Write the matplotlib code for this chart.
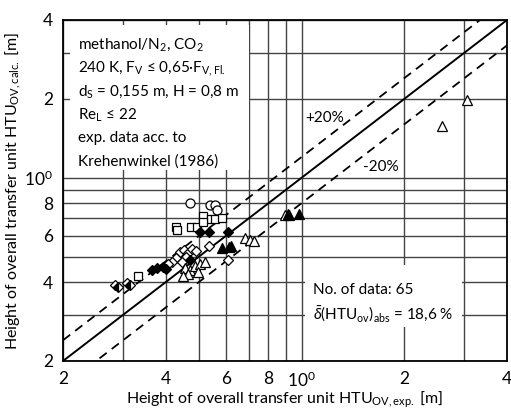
import matplotlib
matplotlib.use("Agg")
import matplotlib.pyplot as plt
from matplotlib.patches import Rectangle
from matplotlib.ticker import FixedLocator, FixedFormatter, NullFormatter
import numpy as np

plt.rcParams["font.family"] = ["Lato", "DejaVu Sans"]
plt.rcParams["mathtext.fontset"] = "custom"
plt.rcParams["mathtext.rm"] = "Lato"
plt.rcParams["mathtext.it"] = "Lato:italic"
plt.rcParams["mathtext.bf"] = "Lato:bold"

DPI = 100
FS = 11

# measured HTU_OV,exp. / HTU_OV,calc. [m], grouped by marker
open_circle_x = [0.472, 0.540, 0.558, 0.566]
open_circle_y = [0.804, 0.788, 0.788, 0.754]

open_square_x = [0.515, 0.543, 0.558, 0.585, 0.429, 0.432, 0.475, 0.494, 0.515, 0.332]
open_square_y = [0.715, 0.694, 0.694, 0.705, 0.649, 0.632, 0.649, 0.649, 0.680, 0.422]

filled_diamond_x = [0.504, 0.536, 0.609, 0.472, 0.365, 0.378, 0.392, 0.402]
filled_diamond_y = [0.621, 0.621, 0.621, 0.486, 0.444, 0.452, 0.457, 0.449]

half_diamond_x = [0.290, 0.314]
half_diamond_y = [0.384, 0.390]

open_diamond_x = [0.536, 0.284, 0.308, 0.441, 0.453, 0.465, 0.478, 0.491,
                  0.459, 0.429, 0.417, 0.406, 0.447, 0.609]
open_diamond_y = [0.551, 0.390, 0.397, 0.521, 0.531, 0.517, 0.535, 0.526,
                  0.499, 0.494, 0.477, 0.469, 0.477, 0.486]

filled_triangle_x = [0.585, 0.614, 0.622, 0.910, 0.984]
filled_triangle_y = [0.538, 0.545, 0.551, 0.728, 0.727]

open_triangle_x = [0.684, 0.707, 0.726, 2.58, 3.06, 0.456, 0.472, 0.488,
                   0.504, 0.522, 0.465, 0.450, 0.498, 0.895, 0.920]
open_triangle_y = [0.590, 0.579, 0.572, 1.58, 1.98, 0.453, 0.445, 0.461,
                   0.469, 0.477, 0.430, 0.422, 0.437, 0.722, 0.722]

tick_values = [0.2, 0.4, 0.6, 0.8, 1.0, 2.0, 4.0]
tick_labels = ["2", "4", "6", "8", "10$^0$", "2", "4"]
minor_values = [0.3, 0.5, 0.7, 0.9, 3.0]

fig = plt.figure(figsize=(511 / DPI, 417 / DPI), dpi=DPI)
ax = fig.add_axes([63 / 511, 1 - 361 / 417, 444 / 511, 341 / 417])
ax.set_xscale("log")
ax.set_yscale("log")
ax.set_xlim(0.2, 4)
ax.set_ylim(0.2, 4)

for axis in (ax.xaxis, ax.yaxis):
    axis.set_major_locator(FixedLocator(tick_values))
    axis.set_major_formatter(FixedFormatter(tick_labels))
    axis.set_minor_locator(FixedLocator(minor_values))
    axis.set_minor_formatter(NullFormatter())
ax.tick_params(which="both", length=0, labelsize=12.5, pad=7)
ax.set_axisbelow(True)
ax.grid(which="both", color="#444444", lw=1.0)
for s in ax.spines.values():
    s.set_linewidth(1.3)

# white boxes for the annotations
ax.add_patch(Rectangle((0.21, 1.07), 0.7 - 0.21, 3.83 - 1.07,
                       facecolor="white", edgecolor="none", zorder=1))
ax.add_patch(Rectangle((1.025, 0.27), 2.96 - 1.025, 0.465 - 0.27,
                       facecolor="white", edgecolor="none", zorder=1))

line = np.array([0.2, 4.0])
ax.plot(line, line, color="black", lw=1.4, zorder=2)
ax.plot(line, 1.2 * line, color="black", lw=1.3, ls=(0, (5, 3.5)), zorder=2)
ax.plot(line, 0.8 * line, color="black", lw=1.3, ls=(0, (5, 3.5)), zorder=2)

mk = dict(ls="none", mec="black", mew=0.9, zorder=3)
ax.plot(open_circle_x, open_circle_y, marker="o", ms=6.5, mfc="white", **mk)
ax.plot(open_square_x, open_square_y, marker="s", ms=6, mfc="white", **mk)
ax.plot(open_diamond_x, open_diamond_y, marker="D", ms=5, mfc="white", **mk)
ax.plot(half_diamond_x, half_diamond_y, marker="D", ms=5, mfc="black",
        fillstyle="left", markerfacecoloralt="white", **mk)
ax.plot(filled_diamond_x, filled_diamond_y, marker="D", ms=5, mfc="black", **mk)
ax.plot(open_triangle_x, open_triangle_y, marker="^", ms=6.5, mfc="white", **mk)
ax.plot(filled_triangle_x, filled_triangle_y, marker="^", ms=6.5, mfc="black", **mk)

info = [
    r"methanol/N$_2$, CO$_2$",
    r"240 K, F$_\mathrm{V}$ ≤ 0,65·F$_\mathrm{V,Fl.}$",
    r"d$_\mathrm{S}$ = 0,155 m, H = 0,8 m",
    r"Re$_\mathrm{L}$ ≤ 22",
    "exp. data acc. to",
    "Krehenwinkel (1986)",
]
for i, t in enumerate(info):
    ax.text(0.034, 0.933 - i * 0.0686, t, transform=ax.transAxes,
            fontsize=FS, va="center_baseline", ha="left", zorder=4)

ax.text(0.563, 0.214, "No. of data: 65", transform=ax.transAxes,
        fontsize=FS, va="center_baseline", zorder=4)
ax.text(0.563, 0.144, r"$\bar{\delta}$(HTU$_\mathrm{ov}$)$_\mathrm{abs}$ = 18,6 %",
        transform=ax.transAxes, fontsize=FS, va="center_baseline", zorder=4)

ax.text(0.545, 0.716, "+20%", transform=ax.transAxes, fontsize=FS,
        va="center_baseline", zorder=4)
ax.text(0.676, 0.572, "-20%", transform=ax.transAxes, fontsize=FS,
        va="center_baseline", zorder=4)

ax.set_xlabel(r"Height of overall transfer unit HTU$_\mathrm{OV,exp.}$ [m]",
              fontsize=11.5, labelpad=0)
ax.set_ylabel(r"Height of overall transfer unit HTU$_\mathrm{OV,calc.}$ [m]",
              fontsize=11.5, labelpad=1)

fig.savefig("out.png", dpi=DPI)
